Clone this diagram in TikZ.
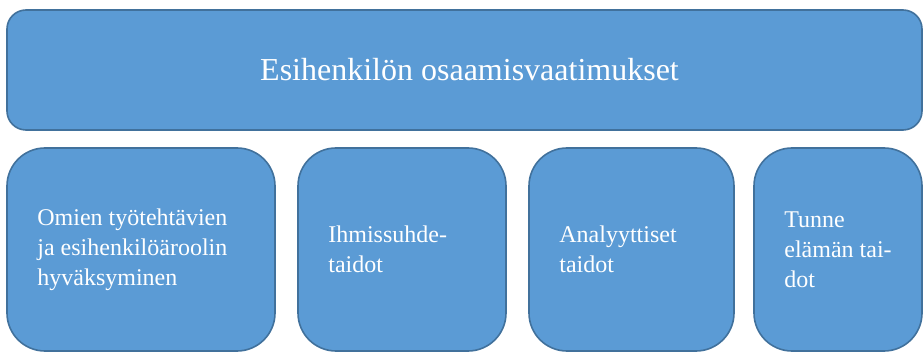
\documentclass[tikz,border=0pt]{standalone}
\usepackage{fontspec}
\setmainfont{Liberation Serif}
\definecolor{boxfill}{HTML}{5B9BD5}
\definecolor{boxline}{HTML}{41719C}
\begin{document}
\begin{tikzpicture}[x=1pt,y=-1pt,
  panel/.style={draw=boxline, fill=boxfill, line width=1.6pt,
    rounded corners=#1, inner sep=0pt},
  headbox/.style={panel=19pt, minimum width=915pt, minimum height=120pt},
  headtext/.style={text=white, inner sep=0pt, font=\fontsize{32}{38}\selectfont},
  skillbox/.style={panel=38pt, minimum height=203pt, minimum width=#1},
  skilltext/.style={text=white, inner sep=0pt, anchor=west, align=left,
    font=\fontsize{24}{30}\selectfont}]
  \useasboundingbox (0,0) rectangle (923,352);
  % heading across the full width
  \node[headbox] (head) at (464.5,70) {};
  \node[headtext] (headlabel) at ([xshift=5pt]head.center)
    {Esihenkilön osaamisvaatimukset};
  % four skill areas below it
  \node[skillbox=268pt] (own) at (141,249.5) {};
  \node[skillbox=208pt] (people) at (402,249.5) {};
  \node[skillbox=205pt] (analytic) at (631.5,249.5) {};
  \node[skillbox=168pt] (emotion) at (838,249.5) {};
  \node[skilltext] (ownlabel) at ([xshift=31pt]own.west)
    {Omien työtehtävien\\ja esihenkilöäroolin\\hyväksyminen};
  \node[skilltext] (peoplelabel) at ([xshift=31pt]people.west)
    {Ihmissuhde-\\taidot};
  \node[skilltext] (analyticlabel) at ([xshift=31pt]analytic.west)
    {Analyyttiset\\taidot};
  \node[skilltext] (emotionlabel) at ([xshift=31pt]emotion.west)
    {Tunne\\elämän tai-\\dot};
\end{tikzpicture}
\end{document}
